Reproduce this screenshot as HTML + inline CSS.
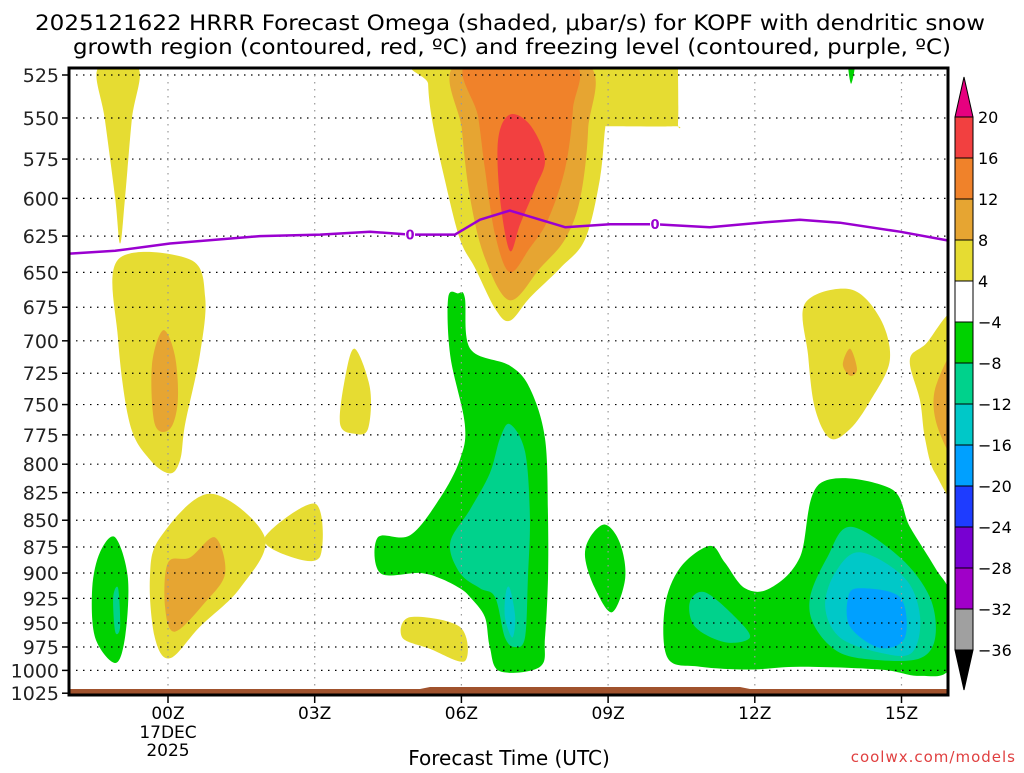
<!DOCTYPE html>
<html><head><meta charset="utf-8"><style>
body{margin:0;background:#fff;width:1024px;height:768px;overflow:hidden}
svg text{font-family:"DejaVu Sans","Liberation Sans",sans-serif}
</style></head><body>
<svg id="chart" width="1024" height="768" viewBox="0 0 1024 768" xmlns="http://www.w3.org/2000/svg">
<text x="510" y="30" font-size="21" text-anchor="middle" fill="#000" textLength="950" lengthAdjust="spacingAndGlyphs">2025121622 HRRR Forecast Omega (shaded, μbar/s) for KOPF with dendritic snow</text>
<text x="512" y="54" font-size="21" text-anchor="middle" fill="#000" textLength="878" lengthAdjust="spacingAndGlyphs">growth region (contoured, red, ºC) and freezing level (contoured, purple, ºC)</text>
<defs><clipPath id="plotclip"><rect x="69" y="68" width="879" height="627"/></clipPath></defs>
<g id="fills" clip-path="url(#plotclip)"></g>
<g id="grid"></g>
<g id="frz"></g>
<rect x="69" y="68" width="879" height="627" fill="none" stroke="#000" stroke-width="3"/>
<g id="axes"></g>
<g id="cbar"></g>
<text x="509" y="765" font-size="20" text-anchor="middle">Forecast Time (UTC)</text>
<text x="1016" y="762" font-size="15" text-anchor="end" fill="#e04040" letter-spacing="1">coolwx.com/models</text>
</svg>
<script>
const pressureTicks=[525,550,575,600,625,650,675,700,725,750,775,800,825,850,875,900,925,950,975,1000,1025];
const hourTicks=[0,3,6,9,12,15];
const hourLabels=["00Z","03Z","06Z","09Z","12Z","15Z"];
const cbarLevels=[20,16,12,8,4,-4,-8,-12,-16,-20,-24,-28,-32,-36];
const cbarColors=["#f24040","#f0822a","#e6a532","#e6dc32","#ffffff","#00d200","#00d28c","#00c8c8","#00a0ff","#1e3cff","#7800d2","#a000c8","#a0a0a0"];
const frzHours=[-2.05,-1.08,0.04,1.88,3.11,4.13,4.95,5.87,6.38,6.99,7.61,8.12,9.04,9.96,11.08,12.1,12.92,13.74,14.97,15.95];
const frzPres=[637,635,630,625,624,622,624,624,614,608,614,619,617,617,619,616,614,616,622,628];
const frzLabelHours=[4.95,9.96];
const yellowShapes=[
[[-1.43,521],[-0.61,521],[-0.74,551],[-0.88,600],[-0.98,630],[-1.08,600],[-1.29,551]],
[[5.36,518],[10.43,518],[10.43,521],[10.43,553],[10.35,555],[9.0,555],[8.94,556],[8.83,588],[8.53,627],[8.02,647],[7.40,668],[6.99,685],[6.69,676],[6.28,647],[5.97,627],[5.66,588],[5.40,551],[5.32,530]],
[[-1.02,641],[0.45,641],[0.76,668],[0.65,711],[0.35,766],[0.25,796],[0.04,808],[-0.37,796],[-0.78,766],[-1.02,699]],
[[3.82,706],[4.13,737],[4.09,770],[3.82,774],[3.52,766],[3.62,729]],
[[0.86,826],[1.98,866],[1.47,915],[0.65,954],[0.04,987],[-0.27,965],[-0.37,905],[-0.16,866]],
[[3.01,835],[3.11,884],[2.49,884],[1.98,866]],
[[4.95,944],[5.97,954],[6.07,990],[5.36,977],[4.79,965]],
[[13.03,672],[13.95,662],[14.56,683],[14.76,715],[14.36,747],[13.95,770],[13.54,778],[13.23,753],[13.09,711]],
[[16.2,683],[16.2,826],[15.69,808],[15.48,778],[15.38,747],[15.17,715],[15.48,703]]
];
const gold812Shapes=[
[[5.93,518],[8.53,518],[8.59,557],[8.43,600],[8.12,627],[7.61,647],[6.99,670],[6.48,640],[6.18,600],[6.01,557]],
[[-0.10,692],[0.14,711],[0.20,747],[0.04,770],[-0.27,766],[-0.33,719]],
[[0.96,866],[1.17,900],[0.76,929],[0.14,959],[-0.06,934],[0,890],[0.45,885]],
[[13.95,706],[14.09,722],[13.95,727],[13.80,718]],
[[16.2,706],[16.2,796],[15.75,770],[15.69,737]]
];
const orangeShapes=[[[6.13,518],[8.26,518],[8.28,545],[8.12,581],[7.77,614],[7.40,633],[6.99,650],[6.69,624],[6.48,581],[6.34,549]]];
const redShapes=[[[6.99,548],[7.40,554],[7.71,575],[7.50,594],[7.20,617],[6.99,635],[6.79,600],[6.75,563]]];
const greenShapes=[
[[13.91,518],[14.05,518],[13.97,530]],
[[5.93,665],[6.07,668],[6.18,706],[6.99,719],[7.40,737],[7.71,778],[7.77,847],[7.77,905],[7.71,965],[7.61,996],[6.79,1001],[6.58,975],[6.48,944],[6.18,924],[5.97,915],[5.56,905],[5.15,900],[4.34,900],[4.29,866],[4.95,864],[5.56,830],[5.97,796],[6.07,766],[5.77,711],[5.73,668]],
[[8.94,854],[9.24,871],[9.35,905],[9.08,939],[8.73,915],[8.53,885],[8.63,866]],
[[-1.08,866],[-0.82,905],[-0.88,965],[-1.08,992],[-1.49,965],[-1.55,915],[-1.39,880]],
[[13.33,817],[14.76,821],[15.17,856],[15.69,895],[16.0,924],[16.0,996],[15.38,1006],[14.56,999],[12.92,996],[11.90,999],[10.88,996],[10.22,987],[10.16,934],[10.47,895],[11.08,874],[11.39,890],[11.80,915],[12.31,915],[12.92,885]]
];
const tealShapes=[
[[6.99,766],[7.30,789],[7.40,847],[7.36,905],[7.30,965],[7.10,975],[6.89,965],[6.69,924],[6.38,915],[5.97,900],[5.77,871],[6.18,840],[6.58,808],[6.79,778]],
[[-1.02,915],[-0.98,954],[-1.08,959],[-1.12,924]],
[[13.95,856],[14.97,885],[15.58,924],[15.69,965],[15.38,987],[14.56,989],[13.74,981],[13.23,954],[13.13,924],[13.48,885]],
[[10.98,919],[11.60,944],[11.90,965],[11.39,970],[10.78,954],[10.67,929]]
];
const cyanShapes=[
[[6.99,915],[7.10,944],[7.04,965],[6.89,944],[6.91,919]],
[[14.15,880],[15.07,905],[15.38,944],[15.21,981],[14.56,981],[13.74,965],[13.44,934],[13.64,900]]
];
const blueShapes=[[[14.15,915],[14.97,924],[15.07,965],[14.56,976],[13.95,954],[13.91,924]]];

const NS="http://www.w3.org/2000/svg";
const X=h=>168+48.9*h;
const Y=p=>75+924*Math.log(p/525);
function mk(tag,attrs,parent){const e=document.createElementNS(NS,tag);for(const k in attrs)e.setAttribute(k,attrs[k]);parent.appendChild(e);return e;}
function smoothPath(pts){
 const P=pts.map(d=>[X(d[0]),Y(d[1])]);const n=P.length;let s="M"+P[0][0].toFixed(1)+","+P[0][1].toFixed(1);
 for(let i=0;i<n;i++){const p0=P[(i-1+n)%n],p1=P[i],p2=P[(i+1)%n],p3=P[(i+2)%n];
  const c1=[p1[0]+(p2[0]-p0[0])/6,p1[1]+(p2[1]-p0[1])/6],c2=[p2[0]-(p3[0]-p1[0])/6,p2[1]-(p3[1]-p1[1])/6];
  s+="C"+c1.map(v=>v.toFixed(1)).join(",")+" "+c2.map(v=>v.toFixed(1)).join(",")+" "+p2.map(v=>v.toFixed(1)).join(",");}
 return s+"Z";}
const fills=document.getElementById('fills');
const layers=[[yellowShapes,"#e6dc32","yellow-region"],[gold812Shapes,"#e6a532","gold-region"],[orangeShapes,"#f0822a","orange-region"],[redShapes,"#f24040","red-region"],[greenShapes,"#00d200","green-region"],[tealShapes,"#00d28c","teal-region"],[cyanShapes,"#00c8c8","cyan-region"],[blueShapes,"#00a0ff","blue-region"]];
layers.forEach(L=>{L[0].forEach(sh=>{const e=mk('path',{d:smoothPath(sh),fill:L[1]},fills);
 
 });});
const ground=mk('path',{d:"M69,689 L420,689 L430,687 L740,687 L750,689 L948,689 L948,696 L69,696 Z",fill:"#a0522d"},fills);


const grid=document.getElementById('grid'),axes=document.getElementById('axes');
pressureTicks.forEach(p=>{const y=Y(p);
 if(p<1025){const g=mk('line',{x1:69,x2:948,y1:y,y2:y,stroke:"#000","stroke-width":1.2,"stroke-dasharray":"1.5,5.5"},grid);
 
 }
 const t=mk('line',{x1:62,x2:69,y1:y,y2:y,stroke:"#000","stroke-width":1.5},axes);
 
 
 const l=mk('text',{x:59,y:y+7,"font-size":19,"text-anchor":"end",fill:"#222"},axes);l.textContent=p;
 
 });
hourTicks.forEach((h,i)=>{const x=X(h);
 const g=mk('line',{x1:x,x2:x,y1:68,y2:689,stroke:"#999","stroke-width":1.2,"stroke-dasharray":"1.5,5.5"},grid);
 
 
 const t=mk('line',{x1:x,x2:x,y1:696,y2:703,stroke:"#000","stroke-width":1.5},axes);
 
 
 const l=mk('text',{x:x,y:719,"font-size":17,"text-anchor":"middle"},axes);l.textContent=hourLabels[i];
 
 });
[["17DEC",738],["2025",756]].forEach(d=>{const l=mk('text',{x:X(0),y:d[1],"font-size":17,"text-anchor":"middle"},axes);l.textContent=d[0];
 
 });
const frz=document.getElementById('frz');
const fp=frzHours.map((h,i)=>X(h).toFixed(1)+","+Y(frzPres[i]).toFixed(1)).join(" ");
const fl=mk('polyline',{points:fp,fill:"none",stroke:"#9a00d0","stroke-width":2.5,"stroke-linejoin":"round"},frz);


frzLabelHours.forEach(h=>{let i=frzHours.findIndex(v=>v>=h);if(i<0)i=frzHours.length-1;const x=X(h),y=Y(frzPres[i]);
 const r=mk('rect',{x:x-5,y:y-7,width:10,height:14,fill:"#fff"},frz);
 
 
 const t=mk('text',{x:x,y:y+5,"font-size":13,"font-weight":"bold","text-anchor":"middle",fill:"#9a00d0"},frz);t.textContent="0";
 
 });
const cb=document.getElementById('cbar');const cbX=955,cbW=18,cbTop=117,cbStep=41;
const tri1=mk('polygon',{points:`${cbX},${cbTop} ${cbX+cbW},${cbTop} ${cbX+cbW/2},77`,fill:"#e6007f",stroke:"#000","stroke-width":1},cb);


cbarColors.forEach((c,i)=>{const r=mk('rect',{x:cbX,y:cbTop+i*cbStep,width:cbW,height:cbStep,fill:c,stroke:"#000","stroke-width":1},cb);
 
 });
const cbBot=cbTop+cbarColors.length*cbStep;
const tri2=mk('polygon',{points:`${cbX},${cbBot} ${cbX+cbW},${cbBot} ${cbX+cbW/2},${cbBot+40}`,fill:"#000",stroke:"#000","stroke-width":1},cb);


cbarLevels.forEach((v,i)=>{const t=mk('text',{x:978,y:cbTop+i*cbStep+6,"font-size":16},cb);t.textContent=v<0?"\u2212"+(-v):v;
 
 });
</script>
</body></html>
